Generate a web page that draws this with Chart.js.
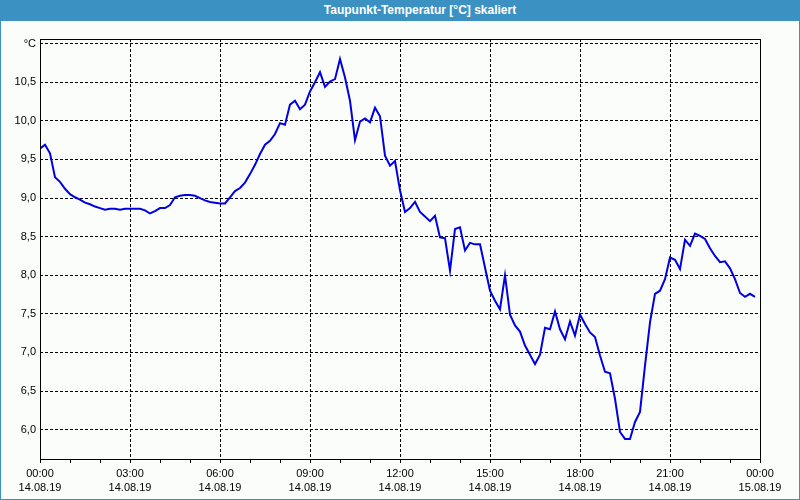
<!DOCTYPE html>
<html>
<head>
<meta charset="utf-8">
<script src="https://cdn.jsdelivr.net/npm/chart.js@4"></script>
<style>
    html, body { margin: 0; padding: 0; background: #fbfdfb; }
    #frame { position: relative; width: 800px; height: 500px; box-sizing: border-box; border: 1px solid #3c91c3; border-top: none; background: #fbfdfb; overflow: hidden; }
    #bar { height: 21px; margin: 0 -1px; background: #3c91c3; color: #fff; font: bold 12px "Liberation Sans", Arial, sans-serif; line-height: 21px; text-align: center; padding-left: 40px; }
    #wrap { position: absolute; left: 0; top: 20px; width: 798px; height: 479px; }
</style>
</head>
<body>
<div id="frame">
    <div id="bar">Taupunkt-Temperatur [°C] skaliert</div>
    <div id="wrap"><canvas id="taupunktChart" width="798" height="479"></canvas></div>
</div>
<script>
// Messwerte alle 10 Minuten ab 14.08.19 00:00
const intervallMinuten = 10;
const taupunkt = [
    9.64, 9.69, 9.58, 9.27, 9.21, 9.12, 9.05, 9.01, 8.98, 8.94,
    8.92, 8.89, 8.87, 8.85, 8.86, 8.86, 8.85, 8.86, 8.86, 8.86,
    8.86, 8.84, 8.80, 8.83, 8.87, 8.87, 8.91, 9.01, 9.03, 9.04,
    9.04, 9.03, 9.00, 8.97, 8.95, 8.94, 8.93, 8.93, 9.01, 9.09,
    9.13, 9.20, 9.31, 9.43, 9.57, 9.69, 9.74, 9.83, 9.97, 9.95,
    10.21, 10.26, 10.15, 10.21, 10.38, 10.50, 10.63, 10.44, 10.51, 10.54,
    10.80, 10.56, 10.26, 9.75, 9.99, 10.03, 9.98, 10.17, 10.06, 9.55,
    9.42, 9.48, 9.10, 8.82, 8.87, 8.95, 8.82, 8.76, 8.70, 8.77,
    8.49, 8.48, 8.06, 8.60, 8.62, 8.32, 8.42, 8.40, 8.40, 8.10,
    7.80, 7.67, 7.56, 8.00, 7.49, 7.35, 7.27, 7.09, 6.97, 6.85,
    6.97, 7.32, 7.30, 7.53, 7.30, 7.17, 7.40, 7.22, 7.49, 7.37,
    7.26, 7.20, 6.96, 6.75, 6.73, 6.40, 5.97, 5.88, 5.88, 6.10,
    6.23, 6.83, 7.39, 7.76, 7.80, 7.95, 8.23, 8.20, 8.08, 8.46,
    8.38, 8.54, 8.51, 8.47, 8.35, 8.25, 8.17, 8.18, 8.09, 7.95,
    7.77, 7.72, 7.76, 7.72
];

const yTickWerte = [6.0, 6.5, 7.0, 7.5, 8.0, 8.5, 9.0, 9.5, 10.0, 10.5, 11.0];
const yTickTexte = ['6,0', '6,5', '7,0', '7,5', '8,0', '8,5', '9,0', '9,5', '10,0', '10,5', '°C'];
const xTickStunden = [0, 3, 6, 9, 12, 15, 18, 21, 24];
const xTickZeiten = ['00:00', '03:00', '06:00', '09:00', '12:00', '15:00', '18:00', '21:00', '00:00'];
const xTickDaten = ['14.08.19', '14.08.19', '14.08.19', '14.08.19', '14.08.19', '14.08.19', '14.08.19', '14.08.19', '15.08.19'];

const yMin = 5.62;
const yMax = 11.06;

const punkte = taupunkt.map((v, i) => ({ x: i * intervallMinuten / 60, y: v }));

const rahmen = {
    id: 'rahmen',
    afterDraw(chart) {
        const { ctx, chartArea: a } = chart;
        ctx.save();
        ctx.strokeStyle = '#000';
        ctx.lineWidth = 1;
        ctx.setLineDash([]);
        ctx.strokeRect(a.left + 0.5, a.top + 0.5, a.right - a.left, a.bottom - a.top);
        ctx.restore();
    }
};

const schrift = { family: '"Liberation Sans", Arial, sans-serif', size: 11 };

new Chart(document.getElementById('taupunktChart'), {
    type: 'line',
    data: {
        datasets: [{
            data: punkte,
            borderColor: '#0000e0',
            borderWidth: 2,
            pointRadius: 0,
            tension: 0,
            fill: false
        }]
    },
    options: {
        responsive: false,
        animation: false,
        layout: { padding: { top: 19, right: 39, left: 0, bottom: 0 } },
        plugins: { legend: { display: false }, tooltip: { enabled: false } },
        scales: {
            x: {
                type: 'linear',
                min: 0,
                max: 24,
                afterFit: s => { s.height = 40; },
                afterBuildTicks: s => {
                    const t = [];
                    for (let h = 0; h <= 24; h++) t.push({ value: h });
                    s.ticks = t;
                },
                border: { display: false, dash: [3, 2] },
                grid: {
                    color: c => {
                        const v = c.tick ? c.tick.value : -1;
                        return (v % 3 === 0 && v > 0 && v < 24) ? '#000' : 'rgba(0,0,0,0)';
                    },
                    tickColor: '#000',
                    tickBorderDash: [],
                    tickLength: 4,
                    lineWidth: 1
                },
                ticks: {
                    autoSkip: false,
                    maxRotation: 0,
                    padding: 4,
                    color: '#000',
                    font: { ...schrift, lineHeight: 1.27 },
                    callback: v => {
                        const k = xTickStunden.indexOf(v);
                        return k < 0 ? '' : [xTickZeiten[k], xTickDaten[k]];
                    }
                }
            },
            y: {
                min: yMin,
                max: yMax,
                afterFit: s => { s.width = 39; },
                afterBuildTicks: s => { s.ticks = yTickWerte.map(v => ({ value: v })); },
                border: { display: false, dash: [3, 2] },
                grid: { color: '#000', drawTicks: false, lineWidth: 1 },
                ticks: {
                    padding: 4,
                    color: '#000',
                    font: schrift,
                    callback: v => {
                        const k = yTickWerte.findIndex(w => Math.abs(w - v) < 1e-6);
                        return k < 0 ? '' : yTickTexte[k];
                    }
                }
            }
        }
    },
    plugins: [rahmen]
});
</script>
</body>
</html>
